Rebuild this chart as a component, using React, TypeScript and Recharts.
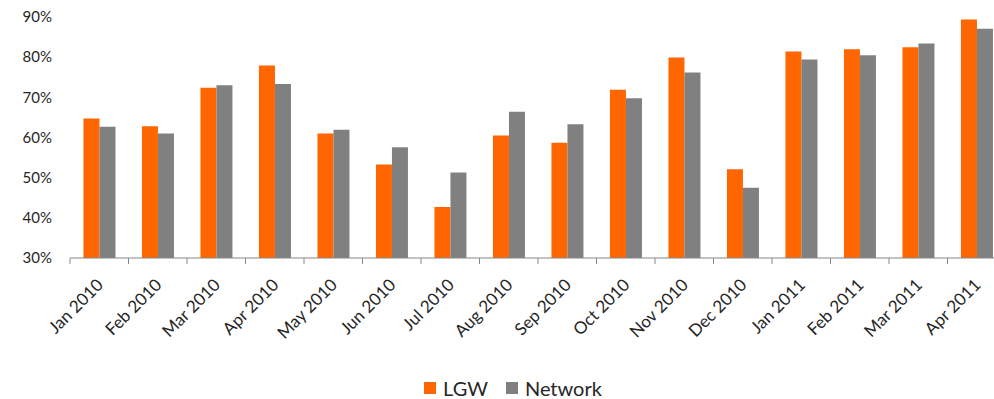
import { Bar, BarChart, Legend, XAxis, YAxis } from "recharts";

const months = [
  "Jan 2010", "Feb 2010", "Mar 2010", "Apr 2010", "May 2010", "Jun 2010", "Jul 2010", "Aug 2010",
  "Sep 2010", "Oct 2010", "Nov 2010", "Dec 2010", "Jan 2011", "Feb 2011", "Mar 2011", "Apr 2011",
];
const lgw = [64.7, 62.8, 72.4, 77.9, 61.0, 53.3, 42.7, 60.5, 58.7, 71.9, 79.9, 52.1, 81.4, 82.0, 82.5, 89.4];
const network = [62.7, 61.0, 73.0, 73.3, 61.9, 57.6, 51.3, 66.4, 63.3, 69.8, 76.2, 47.5, 79.4, 80.5, 83.4, 87.1];
const yTicks = [30, 40, 50, 60, 70, 80, 90];
// category boundaries (tick marks) and centres (labels) on a 0..16 scale
const xTicks = months.flatMap((_, i) => [i, i + 0.5]).concat(months.length);

const data = months.map((m, i) => ({ month: m, LGW: lgw[i], Network: network[i], slot: i + 0.5 }));

const FONT = "Lato, 'Open Sans', sans-serif";

function SlotTick({ x, y, payload }: any) {
  const v = payload.value as number;
  if (Number.isInteger(v)) {
    return <line x1={x} y1={y} x2={x} y2={y + 6} stroke="#868686" />;
  }
  const ax = x + 5;
  const ay = y + 28;
  return (
    <text
      x={ax}
      y={ay}
      transform={`rotate(-45, ${ax}, ${ay})`}
      textAnchor="end"
      fontFamily={FONT}
      fontSize={17}
      fill="#262626"
    >
      {months[Math.floor(v)]}
    </text>
  );
}

function LegendBox({ payload }: any) {
  return (
    <div style={{ display: "flex", justifyContent: "center", alignItems: "center", height: 20, fontFamily: FONT, fontSize: 20, color: "#262626" }}>
      {(payload || []).map((p: any) => (
        <span key={p.value} style={{ display: "flex", alignItems: "center", marginRight: 18 }}>
          <span style={{ width: 12, height: 12, background: p.color, marginRight: 7, display: "inline-block" }} />
          {p.value}
        </span>
      ))}
    </div>
  );
}

export default function App() {
  return (
    <div style={{ position: "fixed", left: 0, top: 0, width: 994, height: 399, overflow: "hidden", background: "#fff" }}>
      <BarChart width={1020} height={399} data={data} margin={{ top: 17, right: 14, left: 0, bottom: 0 }} barCategoryGap="23%" barGap={0}>
        <XAxis dataKey="month" hide height={0} />
        <XAxis
          xAxisId="slots"
          type="number"
          dataKey="slot"
          domain={[0, months.length]}
          ticks={xTicks}
          interval={0}
          height={121}
          tickSize={0}
          tickMargin={0}
          tickLine={false}
          axisLine={{ stroke: "#868686" }}
          tick={<SlotTick />}
        />
        <YAxis
          domain={[30, 90]}
          ticks={yTicks}
          allowDataOverflow
          width={70}
          axisLine={false}
          tickLine={false}
          tickSize={0}
          tickMargin={18}
          tickFormatter={(v: number) => `${v}%`}
          tick={{ fontFamily: FONT, fontSize: 15, fill: "#262626" }}
        />
        <Legend content={<LegendBox />} wrapperStyle={{ left: 0, width: 1044, bottom: 1 }} />
        <Bar dataKey="LGW" fill="#FF6600" isAnimationActive={false} />
        <Bar dataKey="Network" fill="#808080" isAnimationActive={false} />
      </BarChart>
    </div>
  );
}
